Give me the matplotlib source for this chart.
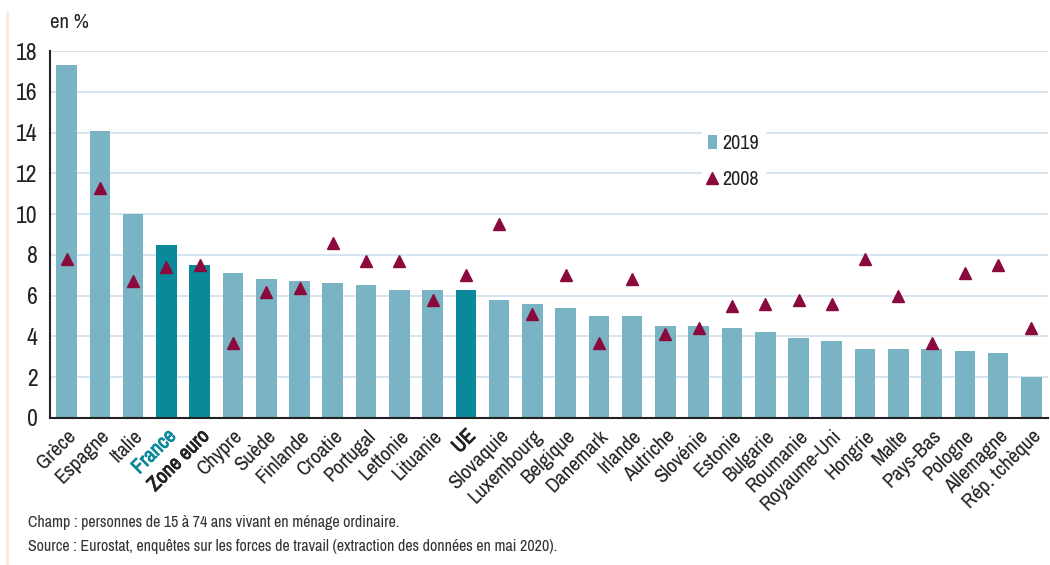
import numpy as np
import matplotlib.pyplot as plt
import matplotlib.patheffects as pe
from matplotlib import font_manager
from matplotlib.lines import Line2D
from matplotlib.patches import Patch

# police étroite si disponible
noms = sorted({f.name for f in font_manager.fontManager.ttflist})
etroites = [n for n in noms if "Narrow" in n or "Condensed" in n]
famille = etroites[:1] + ["DejaVu Sans"]
plt.rcParams['font.family'] = famille
plt.rcParams['font.stretch'] = "condensed"

pays = ["Grèce", "Espagne", "Italie", "France", "Zone euro", "Chypre", "Suède",
        "Finlande", "Croatie", "Portugal", "Lettonie", "Lituanie", "UE",
        "Slovaquie", "Luxembourg", "Belgique", "Danemark", "Irlande", "Autriche",
        "Slovénie", "Estonie", "Bulgarie", "Roumanie", "Royaume-Uni", "Hongrie",
        "Malte", "Pays-Bas", "Pologne", "Allemagne", "Rép. tchèque"]
val_2019 = [17.3, 14.1, 10.0, 8.5, 7.5, 7.1, 6.8, 6.7, 6.6, 6.5, 6.3, 6.3, 6.3,
            5.8, 5.6, 5.4, 5.0, 5.0, 4.5, 4.5, 4.4, 4.2, 3.9, 3.8, 3.4, 3.4,
            3.4, 3.3, 3.2, 2.0]
val_2008 = [7.8, 11.3, 6.7, 7.4, 7.5, 3.7, 6.2, 6.4, 8.6, 7.7, 7.7, 5.8, 7.0,
            9.5, 5.1, 7.0, 3.7, 6.8, 4.1, 4.4, 5.5, 5.6, 5.8, 5.6, 7.8, 6.0,
            3.7, 7.1, 7.5, 4.4]
mis_en_avant = ["France", "Zone euro", "UE"]

c_clair = "#7ab3c4"
c_fonce = "#0a899b"
c_tri = "#8a0a3d"
c_grille = "#cfe0ee"
c_texte = "#222222"

fig = plt.figure(figsize=(10.5, 5.65), dpi=100)
ax = fig.add_axes([50/1050, 1 - 418/565, 998/1050, (418 - 51)/565])

x = np.arange(len(pays))
couleurs = [c_fonce if p in mis_en_avant else c_clair for p in pays]
ax.bar(x, val_2019, width=0.62, color=couleurs, zorder=2)
ax.plot(x, val_2008, linestyle="none", marker="^", markersize=8,
        color=c_tri, zorder=3)

ax.set_xlim(-0.5, len(pays) - 0.5)
ax.set_ylim(0, 18)
ax.set_yticks(range(0, 19, 2))
ax.yaxis.grid(True, color=c_grille, linewidth=1.2, zorder=0)
ax.set_axisbelow(True)
ax.tick_params(axis="both", length=0)
ax.tick_params(axis="y", labelsize=17, pad=9, labelcolor=c_texte)
for s in ["top", "right"]:
    ax.spines[s].set_visible(False)
for s in ["left", "bottom"]:
    ax.spines[s].set_linewidth(1.5)
    ax.spines[s].set_color(c_texte)

ax.set_xticks(x)
ax.set_xticklabels(pays, rotation=45, ha="right", rotation_mode="anchor",
                   fontsize=15, color=c_texte)
for lab in ax.get_xticklabels():
    if lab.get_text() in mis_en_avant:
        coul = c_fonce if lab.get_text() == "France" else c_texte
        lab.set_color(coul)
        lab.set_fontweight("bold")
        # renfort du gras pour la police étroite
        lab.set_path_effects([pe.withStroke(linewidth=0.6, foreground=coul)])
ax.tick_params(axis="x", pad=6)

poignees = [Patch(facecolor=c_clair, label="2019"),
            Line2D([], [], linestyle="none", marker="^", markersize=8,
                   color=c_tri, label="2008")]
leg = ax.legend(handles=poignees, loc="upper left",
                bbox_to_anchor=(0.643, 0.818), frameon=True, fontsize=14.5,
                handlelength=0.45, handletextpad=0.25, labelspacing=0.85,
                borderpad=0.3)
leg.get_frame().set_edgecolor("white")
leg.get_frame().set_facecolor("white")
leg.get_frame().set_alpha(1)
for t in leg.get_texts():
    t.set_color(c_texte)

fig.text(50/1050, 1 - 23/565, "en %", fontsize=15, color=c_texte, va="center")
fig.text(28/1050, 1 - 522/565,
         "Champ : personnes de 15 à 74 ans vivant en ménage ordinaire.",
         fontsize=11.5, color="#333333", va="center")
fig.text(28/1050, 1 - 546/565,
         "Source : Eurostat, enquêtes sur les forces de travail (extraction des données en mai 2020).",
         fontsize=11.5, color="#333333", va="center")

# fin liseré à gauche
fig.add_artist(Line2D([7/1050, 7/1050], [0, 1 - 12/565], color="#fbeadf",
                      linewidth=2, transform=fig.transFigure))

fig.savefig("out.png", dpi=100)
